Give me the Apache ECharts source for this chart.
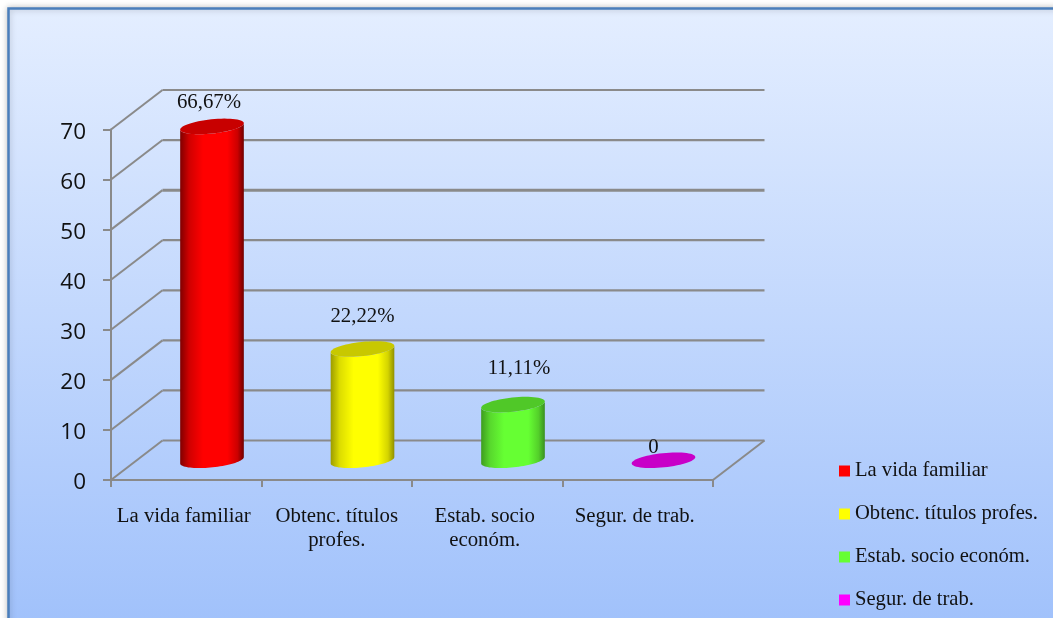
<!DOCTYPE html>
<html><head><meta charset="utf-8">
<style>html,body{margin:0;padding:0;background:#fff;overflow:hidden}#c{width:1053px;height:618px}</style>
<script src="https://cdn.jsdelivr.net/npm/echarts@6/dist/echarts.min.js"></script>
</head><body><div id="c"></div>
<script>
const categories = ['La vida familiar', 'Obtenc. títulos profes.', 'Estab. socio económ.', 'Segur. de trab.'];
const tickLabels = ['La vida familiar', 'Obtenc. títulos\nprofes.', 'Estab. socio\neconóm.', 'Segur. de trab.'];
const values = [66.67, 22.22, 11.11, 0];
const dataLabels = ['66,67%', '22,22%', '11,11%', '0'];
const yTicks = [0, 10, 20, 30, 40, 50, 60, 70];

const sideColors = [
  ['#800000', '#d00000', '#ff0000', '#ff0000', '#cc0000', '#700000'],
  ['#9c9c00', '#dcdc00', '#ffff00', '#ffff00', '#d4d400', '#909000'],
  ['#3e9c1f', '#58d82d', '#66ff33', '#66ff33', '#54d02a', '#3a9020'],
  ['#800080', '#d000d0', '#ff00ff', '#ff00ff', '#cc00cc', '#700070']
];
const legendColors = ['#ff0000', '#ffff00', '#66ff33', '#ff00ff'];
const topColors = ['#c80000', '#c8c800', '#50c828', '#c800c8'];
const labelOffsets = [[-3, -24], [0, -32], [6, -36], [-10, -13]];
const tickPadRight = [5, 0, 5, 6];
const gridColor = '#8a8a8a';
const DEPTH_X = 51.5, DEPTH_Y = -39.5, RX = 32, RY = 7.1, TILT = 6 * Math.PI / 180;
const serif = '"Liberation Serif","Times New Roman",serif';

function ellipsePts(cx, cy, from, to, n) {
  const pts = [];
  for (let i = 0; i <= n; i++) {
    const t = from + (to - from) * i / n;
    pts.push([
      cx + RX * Math.cos(t) * Math.cos(TILT) + RY * Math.sin(t) * Math.sin(TILT),
      cy - RX * Math.cos(t) * Math.sin(TILT) + RY * Math.sin(t) * Math.cos(TILT)
    ]);
  }
  return pts;
}

function renderWall(params, api) {
  const v = api.value(0);
  const a = api.coord([0, v]);
  const cs = params.coordSys;
  const x0 = cs.x, x1 = cs.x + cs.width, y = a[1];
  const ls = { stroke: gridColor, lineWidth: 2, fill: null };
  const kids = [
    { type: 'line', shape: { x1: x0, y1: y, x2: x0 + DEPTH_X, y2: y + DEPTH_Y }, style: ls },
    { type: 'line', shape: { x1: x0 + DEPTH_X, y1: y + DEPTH_Y, x2: x1 + DEPTH_X, y2: y + DEPTH_Y },
      style: { stroke: gridColor, lineWidth: v === 50 ? 3 : 2.2, fill: null } }
  ];
  if (v === 0) kids.push({ type: 'line', shape: { x1: x1, y1: y, x2: x1 + DEPTH_X, y2: y + DEPTH_Y }, style: ls });
  return { type: 'group', children: kids };
}

function renderCyl(idx) {
  return function (params, api) {
    const top = api.coord([api.value(0), api.value(1)]);
    const base = api.coord([api.value(0), 0]);
    const cx = top[0] + DEPTH_X / 2, yT = top[1] + DEPTH_Y / 2, yB = base[1] + DEPTH_Y / 2;
    const kids = [];
    if (api.value(1) > 0) {
      const body = ellipsePts(cx, yB, 0, Math.PI, 40).concat(ellipsePts(cx, yT, Math.PI, 0, 40));
      const c = sideColors[idx];
      kids.push({
        type: 'polygon', shape: { points: body },
        style: { fill: new echarts.graphic.LinearGradient(0, 0, 1, 0, [
          { offset: 0, color: c[0] }, { offset: 0.14, color: c[1] }, { offset: 0.36, color: c[2] },
          { offset: 0.74, color: c[3] }, { offset: 0.9, color: c[4] }, { offset: 1, color: c[5] }]) }
      });
    }
    kids.push({ type: 'polygon', shape: { points: ellipsePts(cx, yT, 0, 2 * Math.PI, 60) }, style: { fill: topColors[idx] } });
    kids.push({
      type: 'text',
      style: { text: dataLabels[idx], x: cx + labelOffsets[idx][0], y: yT + labelOffsets[idx][1],
        fill: '#111', fontFamily: serif, fontSize: 20.8, align: 'center', verticalAlign: 'middle' }
    });
    return { type: 'group', children: kids };
  };
}

const option = {
  animation: false,
  backgroundColor: '#ffffff',
  graphic: { elements: [{
    type: 'rect', z: -100, silent: true,
    shape: { x: 8.5, y: 8.5, width: 1060, height: 620 },
    style: { fill: new echarts.graphic.LinearGradient(0, 0, 0, 1, [
      { offset: 0, color: '#e4eeff' }, { offset: 1, color: '#a0c1fb' }]),
      stroke: '#4a7ebb', lineWidth: 2.5 ,shadowBlur: 6, shadowColor: 'rgba(0,0,0,0.25)'}
  }] },
  grid: { left: 111, top: 129.5, width: 602, height: 350.5 },
  legend: {
    orient: 'vertical', left: 834, top: 451.5, height: 175, itemGap: 14, itemWidth: 11, itemHeight: 11, icon: 'rect',
    data: categories, selectedMode: false,
    textStyle: { fontFamily: serif, fontSize: 20.6, color: '#111', lineHeight: 23, padding: [6, 0, 0, 0] }
  },
  xAxis: {
    type: 'category',
    data: categories.map((c, i) => ({ value: c, textStyle: { padding: [0, tickPadRight[i], 0, 0] } })),
    axisLine: { lineStyle: { color: gridColor, width: 2 } },
    axisTick: { show: true, alignWithLabel: false, length: 7, lineStyle: { color: gridColor, width: 2 } },
    axisLabel: { color: '#111', fontFamily: serif, fontSize: 20.8, margin: 25, lineHeight: 24, interval: 0,
      formatter: (v, i) => tickLabels[i] }
  },
  yAxis: {
    type: 'value', min: 0, max: 70, interval: 10,
    splitLine: { show: false },
    axisLine: { show: true, lineStyle: { color: gridColor, width: 2 } },
    axisTick: { show: true, length: 8, lineStyle: { color: gridColor, width: 2 } },
    axisLabel: { color: '#111', fontFamily: '"Open Sans",sans-serif', fontSize: 22.5, margin: 25, verticalAlign: 'top', lineHeight: 6 }
  },
  series: [
    { type: 'custom', name: 'wall', z: 1, silent: true, renderItem: renderWall, data: yTicks.map(v => [v]), encode: { y: 0 } }
  ].concat(categories.map((name, i) => ({
    type: 'custom', name: name, z: 3, silent: true, renderItem: renderCyl(i),
    itemStyle: { color: legendColors[i] },
    data: [[name, values[i]]], encode: { x: 0, y: 1 }
  })))
};
echarts.init(document.getElementById('c'), null, { renderer: 'canvas' }).setOption(option);
</script></body></html>
